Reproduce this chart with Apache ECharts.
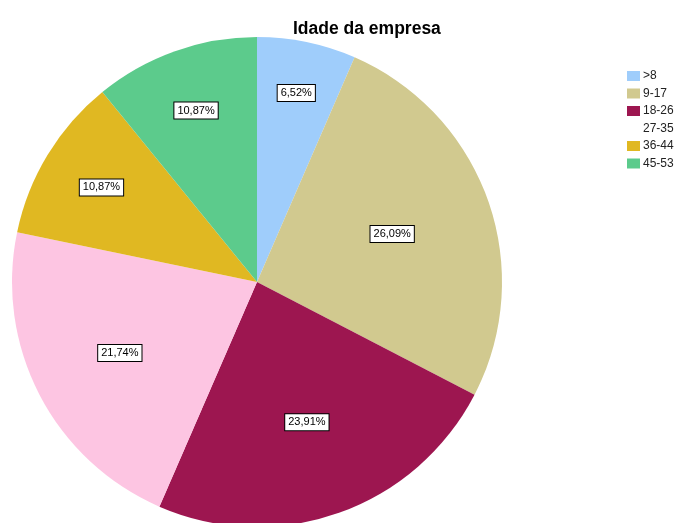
<!DOCTYPE html>
<html><head><meta charset="utf-8">
<script src="https://cdn.jsdelivr.net/npm/echarts@6/dist/echarts.min.js"></script>
<style>html,body{margin:0;padding:0;background:#fff}#c{width:678px;height:523px}</style>
</head><body><div id="c"></div>
<script>
const categories = ['>8','9-17','18-26','27-35','36-44','45-53'];
const counts = [3, 12, 11, 10, 5, 5];
const colors = ['#9fcdfb','#d1c98f','#9d1650','#fdc5e2','#e0b822','#5ccb8c'];
const legendColors = ['#9fcdfb','#d1c98f','#9d1650','#ffffff','#e0b822','#5ccb8c'];

const CX = 257, CY = 282, R = 245;
const total = counts.reduce((a,b)=>a+b,0);

const chart = echarts.init(document.getElementById('c'));
chart.setOption({
  animation: false,
  title: {
    text: 'Idade da empresa', left: 288, top: 15,
    textStyle: {fontFamily: 'Liberation Sans, Arial', fontSize: 17.5, fontWeight: 'bold', color: '#000'}
  },
  legend: {
    orient: 'vertical', left: 622, top: 65,
    itemWidth: 13, itemHeight: 10, itemGap: 5.5,
    icon: 'rect',
    textStyle: {fontFamily: 'Liberation Sans, Arial', fontSize: 12, lineHeight: 12, color: '#222', padding: [0,0,0,-2]},
    data: categories.map((c,i)=>({name: c, itemStyle: {color: legendColors[i], borderWidth: 0}}))
  },
  series: [{
    type: 'pie',
    center: [CX, CY],
    radius: [0, R],
    startAngle: 90,
    clockwise: true,
    data: categories.map((c,i)=>({name: c, value: counts[i], itemStyle: {color: colors[i]}})),
    itemStyle: {borderWidth: 0},
    label: {
      show: true, position: 'inside',
      formatter: p => (p.value/total*100).toFixed(2).replace('.', ',') + '%',
      fontFamily: 'Liberation Sans, Arial', fontSize: 11, color: '#000',
      backgroundColor: '#fff', borderColor: '#000', borderWidth: 1,
      padding: [3,3,2,3]
    },
    labelLine: {show: false},
    labelLayout: function (params) {
      const pct = counts[params.dataIndex] / total * 100;
      const k = 1.67 - 0.0202 * pct;
      const lr = params.labelRect;
      const lx = lr.x + lr.width/2, ly = lr.y + lr.height/2;
      return {x: CX + k*(lx - CX), y: CY + k*(ly - CY), align: 'center', verticalAlign: 'middle'};
    }
  }]
});
</script></body></html>
